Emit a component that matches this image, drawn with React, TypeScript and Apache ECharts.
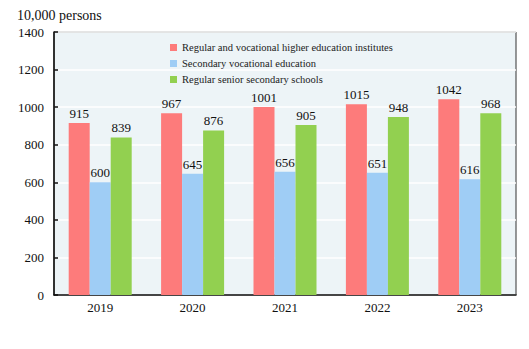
import React, { useEffect, useRef } from "react";
import * as echarts from "echarts";

const years = ["2019", "2020", "2021", "2022", "2023"];
const higherEdu = [915, 967, 1001, 1015, 1042];
const secondaryVoc = [600, 645, 656, 651, 616];
const seniorSecondary = [839, 876, 905, 948, 968];
const seriesNames = [
  "Regular and vocational higher education institutes",
  "Secondary vocational education",
  "Regular senior secondary schools",
];
const colors = ["#fd7b7b", "#9fcdf5", "#92d050"];

const FONT = "Liberation Serif";

export default function App() {
  const ref = useRef<HTMLDivElement>(null);
  useEffect(() => {
    const chart = echarts.init(ref.current!, null, { renderer: "svg" });
    const datasets = [higherEdu, secondaryVoc, seniorSecondary];
    chart.setOption({
      animation: false,
      backgroundColor: "#ffffff",
      textStyle: { fontFamily: FONT },
      graphic: [
        {
          type: "text",
          left: 17,
          top: 8,
          style: { text: "10,000 persons", fontFamily: FONT, fontSize: 14, fill: "#111" },
        },
      ],
      legend: {
        orient: "vertical",
        left: 165,
        top: 37,
        itemWidth: 7,
        itemHeight: 7,
        itemGap: 5,
        icon: "rect",
        textStyle: { fontFamily: FONT, fontSize: 10.5, color: "#222" },
        data: seriesNames,
      },
      grid: {
        left: 54,
        right: 13,
        top: 32,
        bottom: 54,
        show: true,
        backgroundColor: "#edf4f7",
        borderColor: "#333",
        borderWidth: 1,
      },
      xAxis: {
        type: "category",
        data: years,
        axisLine: { lineStyle: { color: "#111", width: 1.5 } },
        axisTick: { inside: true, length: 5, lineStyle: { color: "#111", width: 1.5 } },
        axisLabel: { fontFamily: FONT, fontSize: 13, color: "#111", margin: 6 },
      },
      yAxis: {
        type: "value",
        min: 0,
        max: 1400,
        interval: 200,
        axisLine: { show: true, lineStyle: { color: "#111", width: 1.5 } },
        axisTick: { show: true, inside: true, length: 4, lineStyle: { color: "#111", width: 1.5 } },
        axisLabel: {
          fontFamily: FONT,
          fontSize: 13,
          color: "#111",
          margin: 10,
          formatter: (v: number) => String(v),
        },
        splitLine: { show: true, lineStyle: { color: "#ffffff", width: 1.5 } },
      },
      series: datasets.map((d, i) => ({
        name: seriesNames[i],
        type: "bar",
        data: d,
        barWidth: 21,
        barGap: "0%",
        itemStyle: { color: colors[i] },
        label: {
          show: true,
          position: "top",
          distance: 3,
          fontFamily: FONT,
          fontSize: 13,
          color: "#111",
        },
      })),
    });
    return () => chart.dispose();
  }, []);
  return (
    <div
      ref={ref}
      style={{ position: "absolute", left: 0, top: 0, width: 529, height: 349 }}
    />
  );
}
